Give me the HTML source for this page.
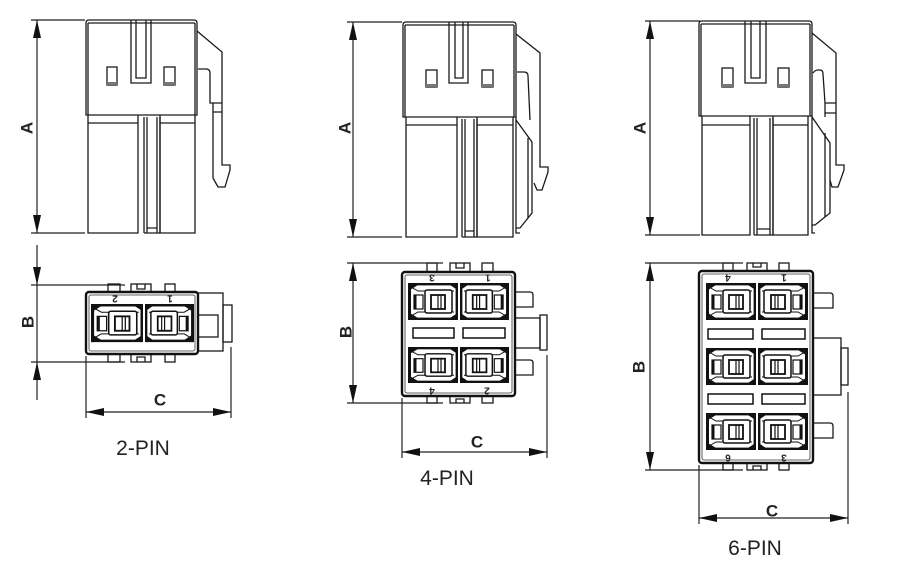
<!DOCTYPE html>
<html><head><meta charset="utf-8"><style>
html,body{margin:0;padding:0;background:#fff;}
svg{display:block}
text{font-family:"Liberation Sans",sans-serif;fill:#222}
.s{fill:none;stroke:#1a1a1a;stroke-width:1.3}
.d{fill:none;stroke:#222;stroke-width:1.2}
.lb{font-size:17px;font-weight:bold}
.pn{font-size:21px}
.nm{font-size:10px;font-weight:bold}
</style></head><body>
<svg width="902" height="584" viewBox="0 0 902 584" xmlns="http://www.w3.org/2000/svg">
<defs>
<g id="cv">
 <rect x="1.2" y="1.2" width="47.6" height="34.6" fill="#fff" stroke="#111" stroke-width="2.4"/>
 <rect x="0" y="0" width="3" height="37" fill="#111"/>
 <polygon points="2,2 10,2 2,7" fill="#111"/>
 <polygon points="2,35 10,35 2,30" fill="#111"/>
 <polygon points="48,2 42,2 48,6" fill="#111"/>
 <polygon points="48,35 42,35 48,31" fill="#111"/>
 <path d="M3,4 L10,8 H46 M3,33 L10,29 H46" fill="none" stroke="#111" stroke-width="1"/>
 <rect x="17" y="7" width="27" height="23" rx="2" fill="#fff" stroke="#111" stroke-width="1.5"/>
 <rect x="23" y="12" width="14" height="14" fill="#fff" stroke="#111" stroke-width="1.8"/>
 <path d="M30,12 V26 M33,12 V26" stroke="#111" stroke-width="1.2"/>
 <rect x="6" y="12" width="9" height="14" fill="#fff" stroke="#111" stroke-width="1.2"/>
 <rect x="6" y="12" width="2.5" height="14" fill="#111"/>
</g>
</defs>

<!-- ============ 2-PIN SIDE ============ -->
<g class="s">
<path d="M86,115 V23 Q86,20 89,20 H194 Q197,20 197,23 V115 Z"/>
<path d="M88,23 V115 M195,23 V115 M88,23 H195"/>
<path d="M131,20 V83 H151 V20 M136,20 V78 H146 V20"/>
<rect x="107" y="67" width="10" height="18"/>
<rect x="164" y="67" width="11" height="18"/>
<path d="M88,115 V233 H138 V115 M88,123 H138"/>
<path d="M160,115 V233 H195 V115 M160,123 H195"/>
<path d="M144,117 V233 M147,117 V233 M157,117 V233 M160,117 V233 M147,228 H157 M144,233 H160"/>
<path d="M197,31 L222,52 V165 H230 V170 L225,187 H218 L213,178"/>
<path d="M198,69 H206 Q210,69 210,73 V103 H222 M213,103 V178 M213,112 H222"/>
</g>
<rect x="107" y="82" width="10" height="3" fill="#777"/>
<rect x="164" y="82" width="11" height="3" fill="#777"/>

<g class="d"><path d="M37,20 V233 M31,20 H85 M31,233 H85"/></g>
<polygon points="37,20 33,38 41,38" fill="#111"/>
<polygon points="37,233 33,215 41,215" fill="#111"/>
<text class="lb" text-anchor="middle" dominant-baseline="central" transform="translate(27,128) rotate(-90)">A</text>

<!-- ============ 4-PIN SIDE ============ -->
<g class="s">
<path d="M403,117 V25 Q403,22 406,22 H513 Q516,22 516,25 V117 Z"/>
<path d="M405,25 V117 M514,25 V117 M405,25 H514"/>
<path d="M449,22 V83 H468 V22 M455,22 V78 H463 V22"/>
<rect x="426" y="70" width="11" height="17"/>
<rect x="482" y="70" width="11" height="17"/>
<path d="M406,117 V237 H457 V117 M406,125 H457"/>
<path d="M477,117 V237 H513 V117 M477,125 H513"/>
<path d="M462,119 V237 M465,119 V237 M474,119 V237 M477,119 V237 M465,231 H474 M462,237 H477"/>
<path d="M516,117 V233 H520"/>
<path d="M516,34 L540,53 V167 H548 V172 L542,190 H537 L534,183"/>
<path d="M517,72 H524 Q528,72 528,76 L530,120"/>
<path d="M516,120 L532,142 V213 L520,228 H516"/>
<path d="M528,138 V218"/>
</g>
<rect x="426" y="84" width="11" height="3" fill="#777"/>
<rect x="482" y="84" width="11" height="3" fill="#777"/>

<g class="d"><path d="M353,22 V237 M347,22 H402 M347,237 H402"/></g>
<polygon points="353,22 349,40 357,40" fill="#111"/>
<polygon points="353,237 349,219 357,219" fill="#111"/>
<text class="lb" text-anchor="middle" dominant-baseline="central" transform="translate(345,128) rotate(-90)">A</text>

<!-- ============ 6-PIN SIDE ============ -->
<g class="s">
<path d="M699,116 V24 Q699,21 702,21 H809 Q812,21 812,24 V116 Z"/>
<path d="M701,24 V116 M810,24 V116 M701,24 H810"/>
<path d="M745,21 V83 H766 V21 M751,21 V78 H760 V21"/>
<rect x="722" y="68" width="11" height="19"/>
<rect x="778" y="68" width="11" height="19"/>
<path d="M702,116 V235 H750 V116 M702,125 H750"/>
<path d="M773,116 V235 H808 V116 M773,125 H808"/>
<path d="M754,118 V235 M757,118 V235 M770,118 V235 M773,118 V235 M757,229 H770 M754,235 H773"/>
<path d="M812,116 V233 H815"/>
<path d="M812,33 L836,53 V165 H844 V170 L838,187 H832 L830,180"/>
<path d="M813,73 Q815,70 818,70 H820 Q823,70 823,74 L825,103 H836 M825,113 H836 M825,103 V117"/>
<path d="M812,117 L830,143 V213 L815,225 H812"/>
<path d="M825,133 V217"/>
</g>
<rect x="722" y="84" width="11" height="3" fill="#777"/>
<rect x="778" y="84" width="11" height="3" fill="#777"/>

<g class="d"><path d="M650,21 V235 M645,21 H700 M645,235 H700"/></g>
<polygon points="650,21 646,39 654,39" fill="#111"/>
<polygon points="650,235 646,217 654,217" fill="#111"/>
<text class="lb" text-anchor="middle" dominant-baseline="central" transform="translate(640,128) rotate(-90)">A</text>

<!-- ============ 2-PIN FRONT ============ -->
<g class="s">
<rect x="198" y="293" width="25" height="58"/>
<rect x="198" y="315" width="20" height="22"/>
<rect x="223" y="305" width="9" height="37"/>
<rect x="108" y="284" width="12" height="8"/>
<rect x="131" y="284" width="20" height="8"/>
<path d="M137,284 V289 H145 V284"/>
<rect x="165" y="284" width="10" height="8"/>
<rect x="108" y="354" width="12" height="8"/>
<rect x="131" y="354" width="20" height="8"/>
<path d="M137,362 V357 H145 V362"/>
<rect x="165" y="354" width="10" height="8"/>
</g>
<rect x="86" y="292" width="112" height="62" rx="3" fill="#fff" stroke="#111" stroke-width="2.4"/>
<rect x="89" y="295" width="106" height="56" rx="2" fill="none" stroke="#333" stroke-width="0.8"/>
<use href="#cv" transform="translate(91,304) scale(1.04,1.03)"/>
<use href="#cv" transform="translate(194,304) scale(-0.98,1.03)"/>
<text class="nm" text-anchor="middle" dominant-baseline="central" transform="translate(115,298) rotate(180)">2</text>
<text class="nm" text-anchor="middle" dominant-baseline="central" transform="translate(170,298) rotate(180)">1</text>

<g class="d"><path d="M37,245 V400 M31,285 H125 M31,362 H125"/></g>
<polygon points="37,285 33,267 41,267" fill="#111"/>
<polygon points="37,362 33,380 41,380" fill="#111"/>
<text class="lb" text-anchor="middle" dominant-baseline="central" transform="translate(28,322) rotate(-90)">B</text>

<g class="d"><path d="M86,412 H231 M86,356 V418 M231,347 V418"/></g>
<polygon points="86,412 104,408 104,416" fill="#111"/>
<polygon points="231,412 213,408 213,416" fill="#111"/>
<text class="lb" x="160" y="400" text-anchor="middle" dominant-baseline="central">C</text>
<text class="pn" x="143" y="455" text-anchor="middle">2-PIN</text>

<!-- ============ 4-PIN FRONT ============ -->
<g class="s">
<path d="M515,292 H530 Q533,292 533,295 V307 H515"/>
<path d="M515,360 H530 Q533,360 533,363 V375 H515"/>
<rect x="515" y="318" width="25" height="30"/>
<rect x="540" y="315" width="7" height="35"/>
<rect x="427" y="263" width="10" height="9"/>
<rect x="450" y="263" width="20" height="9"/>
<path d="M456,263 V268 H464 V263"/>
<rect x="482" y="263" width="11" height="9"/>
<rect x="427" y="396" width="10" height="7"/>
<rect x="450" y="396" width="20" height="7"/>
<path d="M456,403 V399 H464 V403"/>
<rect x="482" y="396" width="11" height="7"/>
</g>
<rect x="402" y="272" width="113" height="124" rx="3" fill="#fff" stroke="#111" stroke-width="2.4"/>
<rect x="405" y="275" width="107" height="118" rx="2" fill="none" stroke="#333" stroke-width="0.8"/>
<use href="#cv" transform="translate(408,283)"/>
<use href="#cv" transform="translate(509,283) scale(-0.98,1)"/>
<use href="#cv" transform="translate(408,347) scale(1,0.973)"/>
<use href="#cv" transform="translate(509,347) scale(-0.98,0.973)"/>
<rect x="413" y="328" width="41" height="10" fill="#fff" stroke="#111" stroke-width="1.5"/>
<rect x="463" y="328" width="42" height="10" fill="#fff" stroke="#111" stroke-width="1.5"/>
<text class="nm" text-anchor="middle" dominant-baseline="central" transform="translate(432,277) rotate(180)">3</text>
<text class="nm" text-anchor="middle" dominant-baseline="central" transform="translate(488,277) rotate(180)">1</text>
<text class="nm" text-anchor="middle" dominant-baseline="central" transform="translate(432,390) rotate(180)">4</text>
<text class="nm" text-anchor="middle" dominant-baseline="central" transform="translate(487,390) rotate(180)">2</text>

<g class="d"><path d="M353,263 V403 M347,263 H443 M347,403 H443"/></g>
<polygon points="353,263 349,281 357,281" fill="#111"/>
<polygon points="353,403 349,385 357,385" fill="#111"/>
<text class="lb" text-anchor="middle" dominant-baseline="central" transform="translate(346,332) rotate(-90)">B</text>

<g class="d"><path d="M402,452 H547 M402,398 V458 M547,355 V458"/></g>
<polygon points="402,452 420,448 420,456" fill="#111"/>
<polygon points="547,452 529,448 529,456" fill="#111"/>
<text class="lb" x="477" y="442" text-anchor="middle" dominant-baseline="central">C</text>
<text class="pn" x="447" y="485" text-anchor="middle">4-PIN</text>

<!-- ============ 6-PIN FRONT ============ -->
<g class="s">
<path d="M813,293 H830 Q833,293 833,296 V308 H813"/>
<path d="M813,423 H830 Q833,423 833,426 V438 H813"/>
<rect x="813" y="338" width="28" height="57"/>
<rect x="841" y="348" width="7" height="37"/>
<rect x="723" y="263" width="10" height="8"/>
<rect x="747" y="263" width="20" height="8"/>
<path d="M753,263 V267 H761 V263"/>
<rect x="779" y="263" width="10" height="8"/>
<rect x="723" y="463" width="10" height="7"/>
<rect x="747" y="463" width="20" height="7"/>
<path d="M753,470 V466 H761 V470"/>
<rect x="779" y="463" width="10" height="7"/>
</g>
<rect x="699" y="271" width="114" height="192" rx="3" fill="#fff" stroke="#111" stroke-width="2.4"/>
<rect x="702" y="274" width="108" height="186" rx="2" fill="none" stroke="#333" stroke-width="0.8"/>
<use href="#cv" transform="translate(706,283)"/>
<use href="#cv" transform="translate(808,283) scale(-1,1)"/>
<use href="#cv" transform="translate(706,348)"/>
<use href="#cv" transform="translate(808,348) scale(-1,1)"/>
<use href="#cv" transform="translate(706,413)"/>
<use href="#cv" transform="translate(808,413) scale(-1,1)"/>
<rect x="708" y="329" width="45" height="10" fill="#fff" stroke="#111" stroke-width="1.5"/>
<rect x="762" y="329" width="43" height="10" fill="#fff" stroke="#111" stroke-width="1.5"/>
<rect x="708" y="394" width="45" height="10" fill="#fff" stroke="#111" stroke-width="1.5"/>
<rect x="762" y="394" width="43" height="10" fill="#fff" stroke="#111" stroke-width="1.5"/>
<text class="nm" text-anchor="middle" dominant-baseline="central" transform="translate(728,277) rotate(180)">4</text>
<text class="nm" text-anchor="middle" dominant-baseline="central" transform="translate(784,277) rotate(180)">1</text>
<text class="nm" text-anchor="middle" dominant-baseline="central" transform="translate(728,457) rotate(180)">6</text>
<text class="nm" text-anchor="middle" dominant-baseline="central" transform="translate(784,457) rotate(180)">3</text>

<g class="d"><path d="M650,263 V470 M645,263 H743 M645,470 H743"/></g>
<polygon points="650,263 646,281 654,281" fill="#111"/>
<polygon points="650,470 646,452 654,452" fill="#111"/>
<text class="lb" text-anchor="middle" dominant-baseline="central" transform="translate(639,367) rotate(-90)">B</text>

<g class="d"><path d="M699,518 H848 M699,465 V524 M848,392 V524"/></g>
<polygon points="699,518 717,514 717,522" fill="#111"/>
<polygon points="848,518 830,514 830,522" fill="#111"/>
<text class="lb" x="772" y="511" text-anchor="middle" dominant-baseline="central">C</text>
<text class="pn" x="755" y="555" text-anchor="middle">6-PIN</text>
</svg>
</body></html>
